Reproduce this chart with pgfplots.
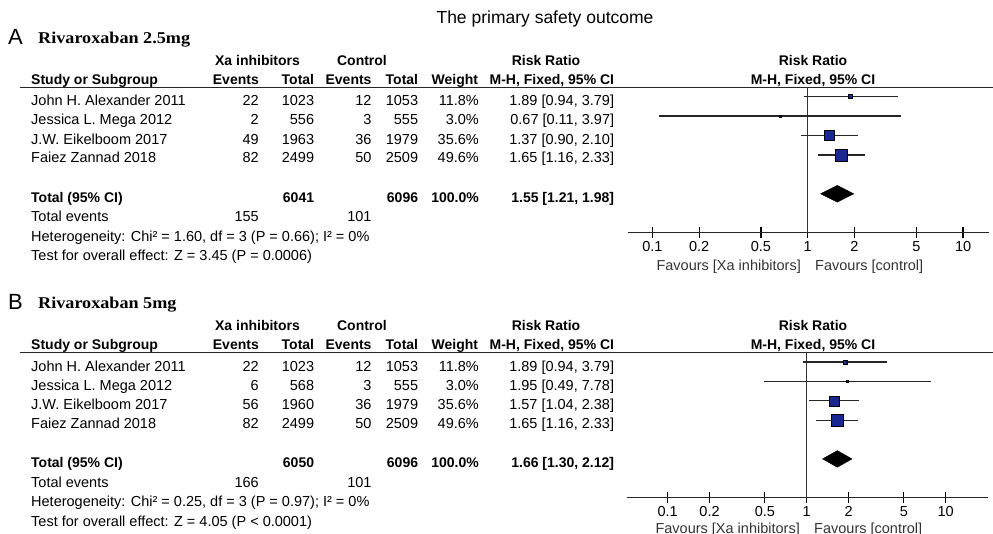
\documentclass[border=0pt]{standalone}
\usepackage{fontspec}
\setmainfont{Liberation Sans}
\newfontfamily\headserif{Liberation Serif}[FakeStretch=1.1]
\usepackage{pgfplots}
\pgfplotsset{compat=1.18}
\definecolor{sq}{RGB}{25,40,145}
\newcommand\fr{\fontsize{14.5}{16}\selectfont}
\newcommand\fb{\fontsize{14}{16}\selectfont\bfseries}
\newcommand\R[3]{\node[anchor=base east,inner sep=0pt] at (#1,#2) {#3};}
\newcommand\Lf[3]{\node[anchor=base west,inner sep=0pt] at (#1,#2) {#3};}
\newcommand\C[3]{\node[anchor=base,inner sep=0pt] at (#1,#2) {#3};}
\begin{document}
\begin{tikzpicture}
\useasboundingbox (0pt,0pt) rectangle (993pt,-534pt);
\begin{scope}[x=1pt,y=-1pt]
% title
\node[anchor=base,inner sep=0pt,font=\fontsize{17.5}{20}\selectfont] at (545,24) {The primary safety outcome};
\foreach \sh/\lab/\drug in {0/A/{Rivaroxaban 2.5mg},265/B/{Rivaroxaban 5mg}}{
  \begin{scope}[yshift=-\sh pt]
  \node[anchor=base west,inner sep=0pt,font=\fontsize{22}{24}\selectfont] at (8,45) {\lab};
  \node[anchor=base west,inner sep=0pt,font=\fontsize{16.5}{19}\headserif\bfseries] at (38,44) {\drug};
  \begin{scope}[font=\fb]
  \C{257.5}{66}{Xa inhibitors}
  \C{362}{66}{Control}
  \C{546}{66}{Risk Ratio}
  \C{813}{66}{Risk Ratio}
  \Lf{31}{85}{Study or Subgroup}
  \R{259}{85}{Events}
  \R{314.3}{85}{Total}
  \R{371.7}{85}{Events}
  \R{418.3}{85}{Total}
  \R{478.3}{85}{Weight}
  \R{614.3}{85}{M-H, Fixed, 95\% CI}
  \C{813}{85}{M-H, Fixed, 95\% CI}
  \Lf{31}{202.5}{Total (95\% CI)}
  \end{scope}
  \draw[line width=1.5pt,black!85] (20,87.3) -- (993,87.3);
  \begin{scope}[font=\fr]
  \Lf{31}{106}{John H. Alexander 2011}
  \Lf{31}{125}{Jessica L. Mega 2012}
  \Lf{31}{144.5}{J.W. Eikelboom 2017}
  \Lf{31}{163}{Faiez Zannad 2018}
  \Lf{31}{222}{Total events}
  \end{scope}
  \end{scope}
}
\begin{scope}[font=\fr]
% panel A rows
\R{259}{106}{22}\R{314.3}{106}{1023}\R{371.7}{106}{12}\R{418.3}{106}{1053}\R{479}{106}{11.8\%}\R{614.3}{106}{1.89 [0.94, 3.79]}
\R{259}{125}{2}\R{314.3}{125}{556}\R{371.7}{125}{3}\R{418.3}{125}{555}\R{479}{125}{3.0\%}\R{614.3}{125}{0.67 [0.11, 3.97]}
\R{259}{144.5}{49}\R{314.3}{144.5}{1963}\R{371.7}{144.5}{36}\R{418.3}{144.5}{1979}\R{479}{144.5}{35.6\%}\R{614.3}{144.5}{1.37 [0.90, 2.10]}
\R{259}{163}{82}\R{314.3}{163}{2499}\R{371.7}{163}{50}\R{418.3}{163}{2509}\R{479}{163}{49.6\%}\R{614.3}{163}{1.65 [1.16, 2.33]}
\R{259}{222}{155}\R{371.7}{222}{101}
\Lf{31}{241.5}{Heterogeneity: Chi² = 1.60, df = 3 (P = 0.66); I² = 0\%}
\Lf{31}{261}{Test for overall effect: Z = 3.45 (P = 0.0006)}
% panel B rows
\R{259}{371}{22}\R{314.3}{371}{1023}\R{371.7}{371}{12}\R{418.3}{371}{1053}\R{479}{371}{11.8\%}\R{614.3}{371}{1.89 [0.94, 3.79]}
\R{259}{390}{6}\R{314.3}{390}{568}\R{371.7}{390}{3}\R{418.3}{390}{555}\R{479}{390}{3.0\%}\R{614.3}{390}{1.95 [0.49, 7.78]}
\R{259}{409.5}{56}\R{314.3}{409.5}{1960}\R{371.7}{409.5}{36}\R{418.3}{409.5}{1979}\R{479}{409.5}{35.6\%}\R{614.3}{409.5}{1.57 [1.04, 2.38]}
\R{259}{428}{82}\R{314.3}{428}{2499}\R{371.7}{428}{50}\R{418.3}{428}{2509}\R{479}{428}{49.6\%}\R{614.3}{428}{1.65 [1.16, 2.33]}
\R{259}{487}{166}\R{371.7}{487}{101}
\Lf{31}{506.5}{Heterogeneity: Chi² = 0.25, df = 3 (P = 0.97); I² = 0\%}
\Lf{31}{526}{Test for overall effect: Z = 4.05 (P < 0.0001)}
% favours
\begin{scope}[text=black!80]
\R{801}{271}{Favours [Xa inhibitors]}\Lf{815}{271}{Favours [control]}
\R{800}{533}{Favours [Xa inhibitors]}\Lf{814}{533}{Favours [control]}
\end{scope}
\end{scope}
\begin{scope}[font=\fb]
\R{314.3}{202.5}{6041}\R{418.3}{202.5}{6096}\R{479}{202.5}{100.0\%}\R{614.3}{202.5}{1.55 [1.21, 1.98]}
\R{314.3}{467.5}{6050}\R{418.3}{467.5}{6096}\R{479}{467.5}{100.0\%}\R{614.3}{467.5}{1.66 [1.30, 2.12]}
\end{scope}
\end{scope}
% ---------- Panel A forest ----------
\begin{axis}[at={(627.7pt,-232.7pt)}, anchor=south west,
  scale only axis, width=361.3pt, height=145.9pt,
  xmode=log, xmin=0.0694, xmax=14.69, ymin=0, ymax=7.5,
  axis x line=bottom, axis y line=none,
  axis line style={-, line width=1.4pt, black!85},
  xtick={0.1,0.2,0.5,1,2,5,10}, xticklabels={0.1,0.2,0.5,1,2,5,10},
  xminorticks=false, ytick=\empty,
  tick align=center, major tick length=10.6pt,
  every tick/.style={line width=1.2pt, black},
  xticklabel style={anchor=base, yshift=-13.3pt, font=\fr, inner sep=0pt},
  clip=false]
\addplot[black!80, line width=1.4pt] coordinates {(1,0) (1,7.5)};
\addplot[black!85, line width=1.3pt] coordinates {(0.94,7) (3.79,7)};
\addplot[black!85, line width=1.3pt] coordinates {(0.11,6) (3.97,6)};
\addplot[black!85, line width=1.3pt] coordinates {(0.90,5) (2.10,5)};
\addplot[black!85, line width=1.3pt] coordinates {(1.16,4) (2.33,4)};
\addplot[only marks, mark=square*, mark size=2pt, mark options={fill=sq, draw=none}] coordinates {(1.89,7)};
\addplot[only marks, mark=square*, mark size=1pt, mark options={fill=sq, draw=none}] coordinates {(0.67,6)};
\addplot[only marks, mark=square*, mark size=5pt, mark options={fill=sq, draw=none}] coordinates {(1.37,5)};
\addplot[only marks, mark=square*, mark size=6pt, mark options={fill=sq, draw=none}] coordinates {(1.65,4)};
\addplot[fill=black, draw=black] coordinates {(1.21,2) (1.55,2.43) (1.98,2) (1.55,1.57) (1.21,2)};
\end{axis}
% ---------- Panel B forest ----------
\begin{axis}[at={(626.7pt,-497.7pt)}, anchor=south west,
  scale only axis, width=361.3pt, height=145.4pt,
  xmode=log, xmin=0.0507, xmax=20.15, ymin=0, ymax=7.5,
  axis x line=bottom, axis y line=none,
  axis line style={-, line width=1.4pt, black!85},
  xtick={0.1,0.2,0.5,1,2,5,10}, xticklabels={0.1,0.2,0.5,1,2,5,10},
  xminorticks=false, ytick=\empty,
  tick align=center, major tick length=10.6pt,
  every tick/.style={line width=1.2pt, black},
  xticklabel style={anchor=base, yshift=-13.3pt, font=\fr, inner sep=0pt},
  clip=false]
\addplot[black!80, line width=1.4pt] coordinates {(1,0) (1,7.5)};
\addplot[black!85, line width=1.3pt] coordinates {(0.94,7) (3.79,7)};
\addplot[black!85, line width=1.3pt] coordinates {(0.49,6) (7.78,6)};
\addplot[black!85, line width=1.3pt] coordinates {(1.04,5) (2.38,5)};
\addplot[black!85, line width=1.3pt] coordinates {(1.16,4) (2.33,4)};
\addplot[only marks, mark=square*, mark size=2pt, mark options={fill=sq, draw=none}] coordinates {(1.89,7)};
\addplot[only marks, mark=square*, mark size=1pt, mark options={fill=sq, draw=none}] coordinates {(1.95,6)};
\addplot[only marks, mark=square*, mark size=5pt, mark options={fill=sq, draw=none}] coordinates {(1.57,5)};
\addplot[only marks, mark=square*, mark size=6pt, mark options={fill=sq, draw=none}] coordinates {(1.65,4)};
\addplot[fill=black, draw=black] coordinates {(1.30,2) (1.66,2.43) (2.12,2) (1.66,1.57) (1.30,2)};
\end{axis}
\end{tikzpicture}
\end{document}
